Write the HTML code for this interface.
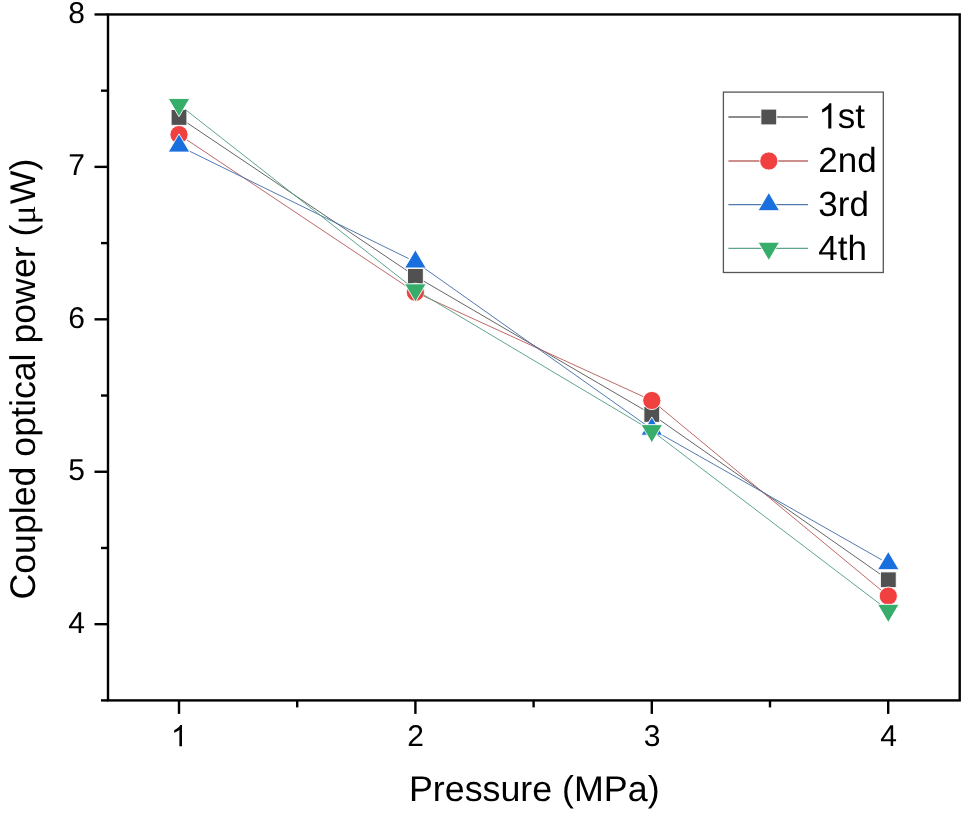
<!DOCTYPE html>
<html><head><meta charset="utf-8"><title>Chart</title>
<style>html,body{margin:0;padding:0;background:#fff;}body{width:968px;height:816px;position:relative;overflow:hidden;font-family:"Liberation Sans",sans-serif;}</style></head>
<body>
<svg width="968" height="816" viewBox="0 0 968 816" style="position:absolute;left:0;top:0;text-rendering:geometricPrecision;will-change:transform">
<rect width="968" height="816" fill="#fff"/>
<line x1="185.22" y1="121.58" x2="409.18" y2="272.12" stroke="#555555" stroke-width="1" stroke-opacity="0.9"/>
<line x1="421.88" y1="280.08" x2="645.32" y2="410.62" stroke="#555555" stroke-width="1" stroke-opacity="0.9"/>
<line x1="657.95" y1="418.70" x2="882.15" y2="575.50" stroke="#555555" stroke-width="1" stroke-opacity="0.9"/>
<rect x="171.10" y="109.50" width="15.8" height="15.8" fill="#515151" stroke="#fff" stroke-width="0.9" stroke-linejoin="miter"/>
<rect x="407.50" y="268.40" width="15.8" height="15.8" fill="#515151" stroke="#fff" stroke-width="0.9" stroke-linejoin="miter"/>
<rect x="643.90" y="406.50" width="15.8" height="15.8" fill="#515151" stroke="#fff" stroke-width="0.9" stroke-linejoin="miter"/>
<rect x="880.40" y="571.90" width="15.8" height="15.8" fill="#515151" stroke="#fff" stroke-width="0.9" stroke-linejoin="miter"/>
<line x1="185.24" y1="138.76" x2="409.16" y2="288.14" stroke="#B85858" stroke-width="1" stroke-opacity="0.9"/>
<line x1="422.22" y1="295.42" x2="644.98" y2="397.38" stroke="#B85858" stroke-width="1" stroke-opacity="0.9"/>
<line x1="657.58" y1="405.28" x2="882.52" y2="591.32" stroke="#B85858" stroke-width="1" stroke-opacity="0.9"/>
<circle cx="179.00" cy="134.60" r="9.1" fill="#F14040" stroke="#fff" stroke-width="0.9" stroke-linejoin="miter"/>
<circle cx="415.40" cy="292.30" r="9.1" fill="#F14040" stroke="#fff" stroke-width="0.9" stroke-linejoin="miter"/>
<circle cx="651.80" cy="400.50" r="9.1" fill="#F14040" stroke="#fff" stroke-width="0.9" stroke-linejoin="miter"/>
<circle cx="888.30" cy="596.10" r="9.1" fill="#F14040" stroke="#fff" stroke-width="0.9" stroke-linejoin="miter"/>
<line x1="185.73" y1="149.30" x2="408.67" y2="258.60" stroke="#3F6CA6" stroke-width="1" stroke-opacity="0.9"/>
<line x1="421.52" y1="266.23" x2="645.68" y2="424.77" stroke="#3F6CA6" stroke-width="1" stroke-opacity="0.9"/>
<line x1="658.32" y1="432.81" x2="881.78" y2="559.89" stroke="#3F6CA6" stroke-width="1" stroke-opacity="0.9"/>
<polygon points="179.00,133.87 189.75,152.07 168.25,152.07" fill="#1A6FDF" stroke="#fff" stroke-width="0.9" stroke-linejoin="miter"/>
<polygon points="415.40,249.77 426.15,267.97 404.65,267.97" fill="#1A6FDF" stroke="#fff" stroke-width="0.9" stroke-linejoin="miter"/>
<polygon points="651.80,416.97 662.55,435.17 641.05,435.17" fill="#1A6FDF" stroke="#fff" stroke-width="0.9" stroke-linejoin="miter"/>
<polygon points="888.30,551.47 899.05,569.67 877.55,569.67" fill="#1A6FDF" stroke="#fff" stroke-width="0.9" stroke-linejoin="miter"/>
<line x1="184.90" y1="109.23" x2="409.50" y2="285.27" stroke="#4F9A82" stroke-width="1" stroke-opacity="0.9"/>
<line x1="421.84" y1="293.74" x2="645.36" y2="426.86" stroke="#4F9A82" stroke-width="1" stroke-opacity="0.9"/>
<line x1="657.77" y1="435.24" x2="882.33" y2="605.86" stroke="#4F9A82" stroke-width="1" stroke-opacity="0.9"/>
<polygon points="179.00,116.73 189.75,98.53 168.25,98.53" fill="#37AD6B" stroke="#fff" stroke-width="0.9" stroke-linejoin="miter"/>
<polygon points="415.40,302.03 426.15,283.83 404.65,283.83" fill="#37AD6B" stroke="#fff" stroke-width="0.9" stroke-linejoin="miter"/>
<polygon points="651.80,442.83 662.55,424.63 641.05,424.63" fill="#37AD6B" stroke="#fff" stroke-width="0.9" stroke-linejoin="miter"/>
<polygon points="888.30,622.53 899.05,604.33 877.55,604.33" fill="#37AD6B" stroke="#fff" stroke-width="0.9" stroke-linejoin="miter"/>
<g stroke="#000" stroke-width="2.4" fill="none" stroke-linecap="butt">
<rect x="108.0" y="14.45" width="851.7" height="685.9499999999999"/>
<line x1="101.00" y1="700.40" x2="108.0" y2="700.40"/>
<line x1="94.50" y1="624.18" x2="108.0" y2="624.18"/>
<line x1="101.00" y1="547.97" x2="108.0" y2="547.97"/>
<line x1="94.50" y1="471.75" x2="108.0" y2="471.75"/>
<line x1="101.00" y1="395.53" x2="108.0" y2="395.53"/>
<line x1="94.50" y1="319.32" x2="108.0" y2="319.32"/>
<line x1="101.00" y1="243.10" x2="108.0" y2="243.10"/>
<line x1="94.50" y1="166.88" x2="108.0" y2="166.88"/>
<line x1="101.00" y1="90.67" x2="108.0" y2="90.67"/>
<line x1="94.50" y1="14.45" x2="108.0" y2="14.45"/>
<line x1="179.00" y1="700.4" x2="179.00" y2="713.90"/>
<line x1="297.20" y1="700.4" x2="297.20" y2="707.40"/>
<line x1="415.40" y1="700.4" x2="415.40" y2="713.90"/>
<line x1="533.60" y1="700.4" x2="533.60" y2="707.40"/>
<line x1="651.80" y1="700.4" x2="651.80" y2="713.90"/>
<line x1="770.00" y1="700.4" x2="770.00" y2="707.40"/>
<line x1="888.20" y1="700.4" x2="888.20" y2="713.90"/>
</g>
<g font-family="Liberation Sans, sans-serif" font-size="30" fill="#000">
<text x="84.9" y="632.68" text-anchor="end">4</text>
<text x="84.9" y="480.25" text-anchor="end">5</text>
<text x="84.9" y="327.82" text-anchor="end">6</text>
<text x="84.9" y="175.38" text-anchor="end">7</text>
<text x="84.9" y="22.95" text-anchor="end">8</text>
<text x="415.70" y="745.8" text-anchor="middle">2</text>
<text x="652.10" y="745.8" text-anchor="middle">3</text>
<text x="888.50" y="745.8" text-anchor="middle">4</text>
<path d="M181.99,746.30 L179.39,746.30 L179.39,729.72 Q178.45,730.62 176.92,731.51 Q175.40,732.41 174.18,732.86 L174.18,730.34 Q176.37,729.32 178.00,727.86 Q179.63,726.40 180.31,725.02 L181.99,725.02 Z" fill="#000"/>
</g>
<text x="534.25" y="801.0" font-family="Liberation Sans, sans-serif" font-size="35.8" text-anchor="middle" fill="#000">Pressure (MPa)</text>
<text transform="translate(34.8,599.5) rotate(-90)" font-family="Liberation Sans, sans-serif" font-size="35.7" text-anchor="start" fill="#000">Coupled optical power (<tspan font-family="Liberation Serif, serif" letter-spacing="1.3">μ</tspan>W)</text>
<rect x="723.4" y="92.1" width="159.9" height="180.4" fill="#fff" stroke="#555" stroke-width="1.3"/>
<line x1="728.4" y1="117.0" x2="808" y2="117.0" stroke="#555555" stroke-width="1.3" stroke-opacity="0.9"/>
<rect x="760.90" y="109.10" width="15.8" height="15.8" fill="#515151" stroke="#fff" stroke-width="0.9" stroke-linejoin="miter"/>
<path d="M831.34,128.40 L828.26,128.40 L828.26,108.80 Q827.15,109.86 825.35,110.92 Q823.55,111.98 822.11,112.51 L822.11,109.53 Q824.69,108.32 826.62,106.59 Q828.55,104.87 829.36,103.24 L831.34,103.24 Z" fill="#000"/>
<text x="837.76" y="128.4" font-family="Liberation Sans, sans-serif" font-size="35" fill="#000">st</text>
<line x1="728.4" y1="161.0" x2="808" y2="161.0" stroke="#B85858" stroke-width="1.3" stroke-opacity="0.9"/>
<circle cx="768.80" cy="161.00" r="9.1" fill="#F14040" stroke="#fff" stroke-width="0.9" stroke-linejoin="miter"/>
<text x="818.3" y="172.4" font-family="Liberation Sans, sans-serif" font-size="35" fill="#000">2nd</text>
<line x1="728.4" y1="204.6" x2="808" y2="204.6" stroke="#3F6CA6" stroke-width="1.3" stroke-opacity="0.9"/>
<polygon points="768.80,192.47 779.55,210.67 758.05,210.67" fill="#1A6FDF" stroke="#fff" stroke-width="0.9" stroke-linejoin="miter"/>
<text x="818.3" y="216.2" font-family="Liberation Sans, sans-serif" font-size="35" fill="#000">3rd</text>
<line x1="728.4" y1="248.3" x2="808" y2="248.3" stroke="#4F9A82" stroke-width="1.3" stroke-opacity="0.9"/>
<polygon points="768.80,260.43 779.55,242.23 758.05,242.23" fill="#37AD6B" stroke="#fff" stroke-width="0.9" stroke-linejoin="miter"/>
<text x="818.3" y="260.1" font-family="Liberation Sans, sans-serif" font-size="35" fill="#000">4th</text>
</svg>
</body></html>
